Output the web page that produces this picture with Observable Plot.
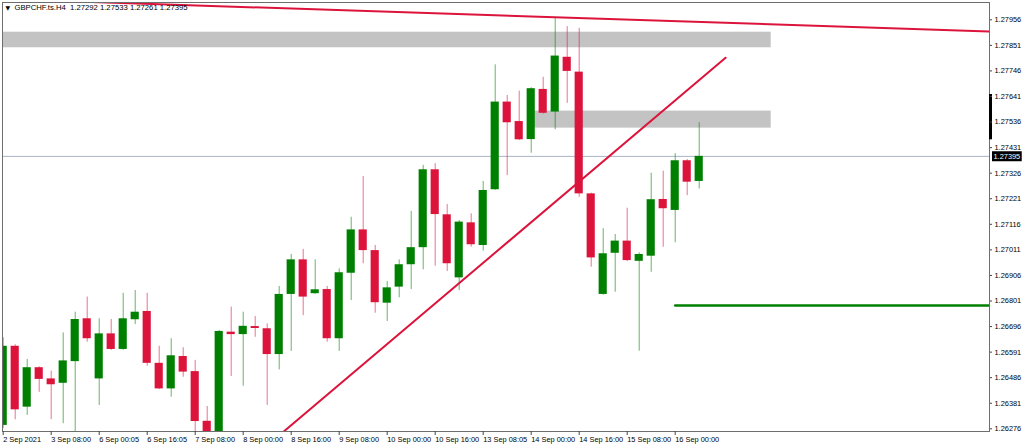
<!DOCTYPE html>
<html>
<head>
<meta charset="utf-8">
<script src="https://cdn.jsdelivr.net/npm/d3@7"></script>
<script src="https://cdn.jsdelivr.net/npm/@observablehq/plot@0.6"></script>
<style>
  html, body { margin: 0; padding: 0; background: #ffffff; }
  #chart svg { display: block; }
</style>
</head>
<body>
<div id="chart"></div>
<script>
// ---- Data (GBPCHF H4, bar index 0 = 2 Sep 2021 16:00) ----
const symbolTitle = "GBPCHF.ts.H4";
const xTickBars = [0, 4, 8, 12, 16, 20, 24, 28, 32, 36, 40, 44, 48, 52, 56];
const xTickLabels = ["2 Sep 2021", "3 Sep 08:00", "6 Sep 00:05", "6 Sep 16:05", "7 Sep 08:00",
  "8 Sep 00:00", "8 Sep 16:00", "9 Sep 08:00", "10 Sep 00:00", "10 Sep 16:00",
  "13 Sep 08:05", "14 Sep 00:00", "14 Sep 16:00", "15 Sep 08:00", "16 Sep 00:00"];
const yTickValues = [1.27956, 1.27851, 1.27746, 1.27641, 1.27536, 1.27431, 1.27326, 1.27221,
  1.27116, 1.27011, 1.26906, 1.26801, 1.26696, 1.26591, 1.26486, 1.26381, 1.26276];

const open = [1.26290, 1.26615, 1.26365, 1.26527, 1.26481, 1.26463, 1.26552, 1.26728, 1.26481, 1.26666,
  1.26602, 1.26724, 1.26758, 1.26545, 1.26440, 1.26573, 1.26511, 1.26307, 1.26240, 1.26673,
  1.26663, 1.26696, 1.26687, 1.26581, 1.26828, 1.26970, 1.26831, 1.26848, 1.26646, 1.26915,
  1.27093, 1.27008, 1.26792, 1.26858, 1.26950, 1.27020, 1.27340, 1.27155, 1.26896, 1.27122,
  1.27029, 1.27258, 1.27618, 1.27538, 1.27464, 1.27670, 1.27577, 1.27802, 1.27741, 1.27241,
  1.26828, 1.26997, 1.27047, 1.26964, 1.26985, 1.27218, 1.27173, 1.27377, 1.27292];
const high = [1.26650, 1.26621, 1.26561, 1.26531, 1.26513, 1.26670, 1.26755, 1.26817, 1.26728, 1.26725,
  1.26833, 1.26844, 1.26833, 1.26615, 1.26646, 1.26609, 1.26557, 1.26368, 1.26680, 1.26776,
  1.26755, 1.26737, 1.26707, 1.26861, 1.26992, 1.27013, 1.26970, 1.26861, 1.26933, 1.27145,
  1.27312, 1.27029, 1.26881, 1.26970, 1.27169, 1.27358, 1.27365, 1.27197, 1.27132, 1.27159,
  1.27292, 1.27771, 1.27645, 1.27663, 1.27677, 1.27720, 1.27963, 1.27928, 1.27921, 1.27244,
  1.27098, 1.27074, 1.27182, 1.26999, 1.27326, 1.27334, 1.27406, 1.27382, 1.27533];
const low = [1.26277, 1.26313, 1.26331, 1.26426, 1.26314, 1.26297, 1.26255, 1.26632, 1.26372, 1.26598,
  1.26598, 1.26704, 1.26533, 1.26437, 1.26406, 1.26488, 1.26255, 1.26230, 1.26230, 1.26491,
  1.26451, 1.26652, 1.26372, 1.26518, 1.26594, 1.26741, 1.26828, 1.26632, 1.26594, 1.26803,
  1.26954, 1.26751, 1.26717, 1.26814, 1.26848, 1.26929, 1.26944, 1.26922, 1.26844, 1.27022,
  1.27006, 1.27255, 1.27316, 1.27460, 1.27408, 1.27569, 1.27504, 1.27613, 1.27227, 1.26940,
  1.26825, 1.26837, 1.26963, 1.26595, 1.26919, 1.27022, 1.27040, 1.27234, 1.27261];
const close = [1.26615, 1.26354, 1.26527, 1.26479, 1.26457, 1.26555, 1.26725, 1.26646, 1.26666, 1.26602,
  1.26728, 1.26755, 1.26545, 1.26440, 1.26576, 1.26509, 1.26306, 1.26240, 1.26676, 1.26663,
  1.26697, 1.26688, 1.26581, 1.26828, 1.26970, 1.26817, 1.26847, 1.26646, 1.26917, 1.27093,
  1.27008, 1.26794, 1.26855, 1.26950, 1.27020, 1.27340, 1.27156, 1.26954, 1.27125, 1.27032,
  1.27255, 1.27618, 1.27533, 1.27463, 1.27673, 1.27572, 1.27807, 1.27744, 1.27241, 1.26978,
  1.26995, 1.27047, 1.26967, 1.26992, 1.27217, 1.27180, 1.27377, 1.27289, 1.27395];

// Drawn objects (bar index / price)
const zoneBars1 = [-2, 64];   const zonePrices1 = [1.27841, 1.27905];
const zoneBars2 = [44, 64];   const zonePrices2 = [1.27511, 1.27581];
const resistBars = [0, 82.2]; const resistPrices = [1.28041, 1.27908];
const supportBars = [20, 60.2]; const supportPrices = [1.26124, 1.27800];
const levelBars = [56, 82.2]; const levelPrice = 1.26783;
const markerRange = [1.27463, 1.27649];

// ---- Build tables ----
const bars = open.map((o, i) => ({i, open: o, high: high[i], low: low[i], close: close[i]}));
const zones = [
  {x1: zoneBars1[0], x2: zoneBars1[1], y1: zonePrices1[0], y2: zonePrices1[1]},
  {x1: zoneBars2[0], x2: zoneBars2[1], y1: zonePrices2[0], y2: zonePrices2[1]}
];
const resist = resistBars.map((b, k) => ({i: b, p: resistPrices[k]}));
const support = supportBars.map((b, k) => ({i: b, p: supportPrices[k]}));
const level = levelBars.map(b => ({i: b, p: levelPrice}));
const last = bars[bars.length - 1];
const tickLabel = new Map(xTickBars.map((b, k) => [b, xTickLabels[k]]));

const UP = "#008000", DOWN = "#dc143c";
const colorOf = d => d.close >= d.open ? UP : DOWN;
const FONT = "'Liberation Sans', Arial, sans-serif";
const FS = 7.4;

const W = 1024, H = 447;
const mL = 2, mR = 35, mT = 2, mB = 16;
const barPx = 12, firstPx = 2.7;
const xDomain = [(mL - firstPx) / barPx, (W - mR - firstPx) / barPx];

const chart = Plot.plot({
  width: W, height: H,
  marginLeft: mL, marginRight: mR, marginTop: mT, marginBottom: mB,
  style: {fontFamily: FONT, fontSize: FS + "px", background: "#ffffff", color: "#000"},
  x: {type: "linear", domain: xDomain},
  y: {type: "linear", domain: [1.26265, 1.28027]},
  marks: [
    Plot.rect(zones, {x1: "x1", x2: "x2", y1: "y1", y2: "y2", fill: "#c3c3c3", clip: true}),
    Plot.ruleY([last.close], {stroke: "#a9b3c5", strokeWidth: 1}),
    Plot.line(level, {x: "i", y: "p", stroke: UP, strokeWidth: 2.5, clip: true}),
    Plot.ruleX(bars, {x: "i", y1: "low", y2: "high", stroke: colorOf, strokeWidth: 1, strokeOpacity: 0.6, clip: true}),
    Plot.rect(bars, {x1: d => d.i - 0.34, x2: d => d.i + 0.34, y1: "open", y2: "close", fill: colorOf, clip: true}),
    Plot.line(resist, {x: "i", y: "p", stroke: DOWN, strokeWidth: 2, clip: true}),
    Plot.line(support, {x: "i", y: "p", stroke: DOWN, strokeWidth: 2, clip: true}),
    Plot.frame({stroke: "#6e6e6e", strokeWidth: 1}),
    Plot.ruleX([markerRange], {x: () => xDomain[1], y1: d => d[0], y2: d => d[1], stroke: "#000", strokeWidth: 3, dx: 1}),
    Plot.axisY(yTickValues, {anchor: "right", tickSize: 2, tickPadding: 3, tickFormat: d => d.toFixed(5),
      label: null, fontSize: FS, fill: "#000", stroke: "#444"}),
    Plot.axisX(xTickBars, {anchor: "bottom", tickSize: 4, tickPadding: 1, tickFormat: d => tickLabel.get(d),
      label: null, textAnchor: "start", dx: 0, fontSize: FS, fill: "#000", stroke: "#444"}),
    Plot.text([last.close], {y: d => d, frameAnchor: "right", dx: 4, textAnchor: "start",
      text: d => d.toFixed(5), fill: "#fff", fontSize: FS, className: "pricetag"}),
    Plot.text(["\u25BC"], {frameAnchor: "top-left", dx: 3, dy: 3.5, lineAnchor: "top", fontSize: 6, fill: "#000", text: d => d,
      fontFamily: "'DejaVu Sans', sans-serif"}),
    Plot.text([`${symbolTitle}  ${last.open.toFixed(5)} ${last.high.toFixed(5)} ${last.low.toFixed(5)} ${last.close.toFixed(5)}`],
      {frameAnchor: "top-left", dx: 12, dy: 2.2, lineAnchor: "top", fontSize: 7.7, fill: "#000", text: d => d})
  ]
});

document.getElementById("chart").appendChild(chart);

// black background box behind current price label
d3.select(chart).selectAll("g.pricetag text").each(function() {
  const bb = this.getBBox();
  const tf = this.getAttribute("transform");
  const r = d3.select(this.parentNode).insert("rect", "text")
    .attr("x", bb.x - 1.5).attr("y", bb.y - 0.5)
    .attr("width", bb.width + 3).attr("height", bb.height + 1)
    .attr("fill", "#000");
  if (tf) r.attr("transform", tf);
});
</script>
</body>
</html>
